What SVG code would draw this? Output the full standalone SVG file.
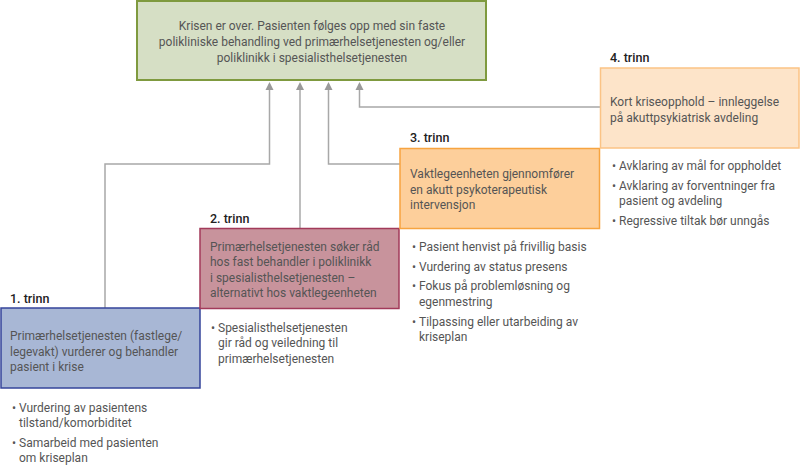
<svg xmlns="http://www.w3.org/2000/svg" width="800" height="465" viewBox="0 0 800 465">
<defs>
<marker id="arr" viewBox="0 0 8 10" refX="4" refY="1" markerWidth="8" markerHeight="10" markerUnits="userSpaceOnUse" orient="auto-start-reverse">
<path d="M0,9 L4,0 L8,9 Z" fill="#9a9a9a"/>
</marker>
</defs>
<style>
text{font-family:Roboto,"Open Sans","Liberation Sans",sans-serif;font-size:12px;fill:#555}
.lbl{fill:#222;font-size:12.5px;font-weight:500}
.conn{fill:none;stroke:#a8a8a8;stroke-width:1.5}
</style>
<rect width="800" height="465" fill="#fff"/>
<g id="connectors">
<path class="conn" d="M105,308 V164 H269.5 V84"/>
<path class="conn" d="M300,228 V84"/>
<path class="conn" d="M400,164 H328.5 V84"/>
<path class="conn" d="M600,107 H359.5 V84"/>
<path d="M265.5,90 L269.5,82 L273.5,90 Z M296,90 L300,82 L304,90 Z M324.5,90 L328.5,82 L332.5,90 Z M355.5,90 L359.5,82 L363.5,90 Z" fill="#9a9a9a"/>
</g>
<g id="top">
<rect x="137" y="1" width="349" height="79" fill="#d6dfc5" stroke="#7f9a3f" stroke-width="2"/>
<text x="312" y="30" text-anchor="middle">Krisen er over. Pasienten følges opp med sin faste</text>
<text x="312" y="46" text-anchor="middle">polikliniske behandling ved primærhelsetjenesten og/eller</text>
<text x="312" y="62" text-anchor="middle">poliklinikk i spesialisthelsetjenesten</text>
</g>
<g id="step1">
<text class="lbl" x="10" y="303">1. trinn</text>
<rect x="1" y="308" width="199" height="80" fill="#a8b7d5" stroke="#34449a" stroke-width="1.5"/>
<text x="10" y="340">Primærhelsetjenesten (fastlege/</text>
<text x="10" y="356">legevakt) vurderer og behandler</text>
<text x="10" y="371">pasient i krise</text>
<text x="12" y="412">•</text><text x="19" y="412">Vurdering av pasientens</text>
<text x="19" y="427">tilstand/komorbiditet</text>
<text x="12" y="447">•</text><text x="19" y="447">Samarbeid med pasienten</text>
<text x="19" y="462">om kriseplan</text>
</g>
<g id="step2">
<text class="lbl" x="210" y="223">2. trinn</text>
<rect x="200" y="228.5" width="199" height="80" fill="#c8939c" stroke="#a23a5a" stroke-width="1.5"/>
<text x="210" y="251">Primærhelsetjenesten søker råd</text>
<text x="210" y="266">hos fast behandler i poliklinikk</text>
<text x="210" y="282">i spesialisthelsetjenesten –</text>
<text x="210" y="297">alternativt hos vaktlegeenheten</text>
<text x="211" y="332">•</text><text x="218" y="332">Spesialisthelsetjenesten</text>
<text x="218" y="347">gir råd og veiledning til</text>
<text x="218" y="363">primærhelsetjenesten</text>
</g>
<g id="step3">
<text class="lbl" x="410" y="142">3. trinn</text>
<rect x="400" y="148.5" width="199.5" height="80" fill="#fdcf9b" stroke="#f7a440" stroke-width="1.5"/>
<text x="410" y="178">Vaktlegeenheten gjennomfører</text>
<text x="410" y="194">en akutt psykoterapeutisk</text>
<text x="410" y="209">intervensjon</text>
<text x="412" y="251">•</text><text x="419" y="251">Pasient henvist på frivillig basis</text>
<text x="412" y="271">•</text><text x="419" y="271">Vurdering av status presens</text>
<text x="412" y="290">•</text><text x="419" y="290">Fokus på problemløsning og</text>
<text x="419" y="306">egenmestring</text>
<text x="412" y="326">•</text><text x="419" y="326">Tilpassing eller utarbeiding av</text>
<text x="419" y="341">kriseplan</text>
</g>
<g id="step4">
<text class="lbl" x="610" y="62">4. trinn</text>
<rect x="600.5" y="68" width="198.5" height="80" fill="#fde4c9" stroke="#fbc385" stroke-width="1.5"/>
<text x="610" y="106">Kort kriseopphold – innleggelse</text>
<text x="610" y="122">på akuttpsykiatrisk avdeling</text>
<text x="612" y="170">•</text><text x="619" y="170">Avklaring av mål for oppholdet</text>
<text x="612" y="190">•</text><text x="619" y="190">Avklaring av forventninger fra</text>
<text x="619" y="205">pasient og avdeling</text>
<text x="612" y="225">•</text><text x="619" y="225">Regressive tiltak bør unngås</text>
</g>
</svg>
